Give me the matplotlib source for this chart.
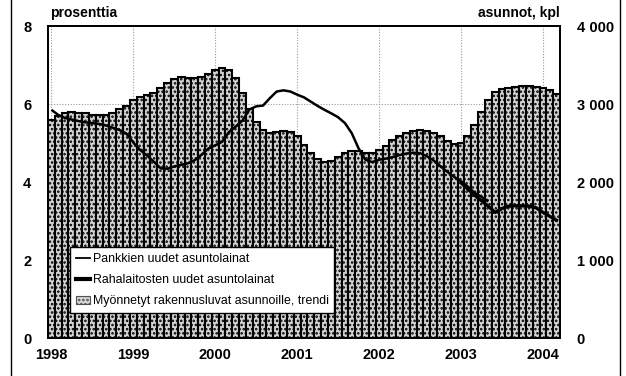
import numpy as np
import matplotlib.pyplot as plt
from matplotlib.lines import Line2D

plt.rcParams['font.family'] = ['Liberation Sans Narrow', 'Liberation Sans', 'DejaVu Sans']

# monthly data, Jan 1998 - Mar 2004
years = [1998, 1999, 2000, 2001, 2002, 2003, 2004]

# building permits for dwellings, trend (asunnot, kpl)
permits = [2790, 2840, 2890, 2900, 2890, 2880, 2865, 2860, 2860, 2890, 2935, 2980,
           3045, 3085, 3115, 3145, 3200, 3270, 3320, 3340, 3330, 3330, 3345, 3380,
           3435, 3465, 3435, 3330, 3145, 2935, 2770, 2670, 2630, 2635, 2650, 2645,
           2585, 2480, 2375, 2290, 2260, 2270, 2320, 2375, 2395, 2395, 2375, 2375,
           2405, 2460, 2535, 2585, 2630, 2660, 2670, 2660, 2630, 2585, 2520, 2490,
           2500, 2585, 2735, 2895, 3055, 3150, 3195, 3200, 3220, 3230, 3230, 3220,
           3200, 3180, 3125]

# banks' new housing loans, % (Jan 1998 - May 2003)
banks = [5.85, 5.72, 5.64, 5.60, 5.56, 5.53, 5.51, 5.49, 5.45, 5.39, 5.33, 5.24,
         5.01, 4.82, 4.68, 4.52, 4.35, 4.34, 4.40, 4.44, 4.48, 4.56, 4.70, 4.86,
         4.94, 5.03, 5.28, 5.42, 5.58, 5.86, 5.94, 5.96, 6.15, 6.32, 6.35, 6.32,
         6.24, 6.17, 6.06, 5.95, 5.85, 5.76, 5.66, 5.51, 5.25, 4.86, 4.57, 4.51,
         4.57, 4.60, 4.64, 4.69, 4.73, 4.75, 4.74, 4.66, 4.55, 4.40, 4.26, 4.13,
         4.02, 3.88, 3.72, 3.62, 3.50]

# MFIs' new housing loans, % (Jan 2003 - Mar 2004)
mfi_start = 60
mfis = [3.98, 3.82, 3.66, 3.52, 3.38, 3.22, 3.32, 3.38, 3.39, 3.39, 3.38, 3.34,
        3.22, 3.12, 3.02]

n = len(permits)
x = np.arange(n)

fig = plt.figure(figsize=(6.26, 3.76), dpi=100)
ax = fig.add_axes([48 / 626, 1 - 338 / 376, 512 / 626, 312 / 376])
ax2 = ax.twinx()

ax.set_zorder(2)
ax.patch.set_visible(False)
ax2.set_zorder(1)

plt.rcParams['hatch.color'] = '#505050'
plt.rcParams['hatch.linewidth'] = 1.2
ax2.bar(x, permits, width=1.0, color='#d4d4d4', edgecolor='black',
        linewidth=1.5, hatch='....', zorder=2)
ax2.set_ylim(0, 4000)
ax2.set_yticks([0, 1000, 2000, 3000, 4000])
ax2.set_yticklabels(['0', '1 000', '2 000', '3 000', '4 000'])

# gridlines drawn on the bar axes so bars hide them
for k in range(len(years)):
    ax2.axvline(12 * k, color='#999999', linestyle=(0, (1, 1.5)), lw=0.8, zorder=0)
ax2.axhline(3000, color='#999999', linestyle=(0, (1, 1.5)), lw=0.8, zorder=0)

ax.plot(x[:len(banks)], banks, color='black', lw=1.8, solid_capstyle='butt')
ax.plot(x[mfi_start:mfi_start + len(mfis)], mfis, color='black', lw=2.4)
ax.set_ylim(0, 8)
ax.set_yticks([0, 2, 4, 6, 8])
ax.set_xlim(-0.5, n - 0.5)
ax.set_xticks([12 * k for k in range(len(years))])
ax.set_xticklabels([str(y) for y in years])

for a in (ax, ax2):
    a.tick_params(length=0, labelsize=10.5, pad=7)
    for lbl in a.get_yticklabels() + a.get_xticklabels():
        lbl.set_fontweight('bold')
    for s in a.spines.values():
        s.set_linewidth(1.3)
ax.tick_params(axis='y', pad=12)
ax2.tick_params(axis='y', pad=12)

fig.text(50 / 626, 1 - 13 / 376, 'prosenttia', fontsize=10, fontweight='bold',
         ha='left', va='center')
fig.text(560 / 626, 1 - 13 / 376, 'asunnot, kpl', fontsize=10, fontweight='bold',
         ha='right', va='center')

handles = [Line2D([], [], color='black', lw=1.3),
           Line2D([], [], color='black', lw=3),
           plt.Rectangle((0, 0), 1, 1, facecolor='#d4d4d4', edgecolor='#505050',
                         hatch='....', lw=0.8)]
labels = ['Pankkien uudet asuntolainat', 'Rahalaitosten uudet asuntolainat',
          'Myönnetyt rakennusluvat asunnoille, trendi']
leg = ax.legend(handles, labels, loc='lower left', bbox_to_anchor=(0.043, 0.08),
                frameon=True, fancybox=False, framealpha=1, edgecolor='black',
                fontsize=8.9, handlelength=1.2, handletextpad=0.2,
                borderpad=0.45, labelspacing=0.75, borderaxespad=0)
leg.get_frame().set_linewidth(1.0)

# outer frame lines
fig.add_artist(Line2D([11 / 626, 11 / 626], [0, 1], color='black', lw=1.0))
fig.add_artist(Line2D([620 / 626, 620 / 626], [0, 1], color='black', lw=1.0))

fig.savefig('out.png', dpi=100)
